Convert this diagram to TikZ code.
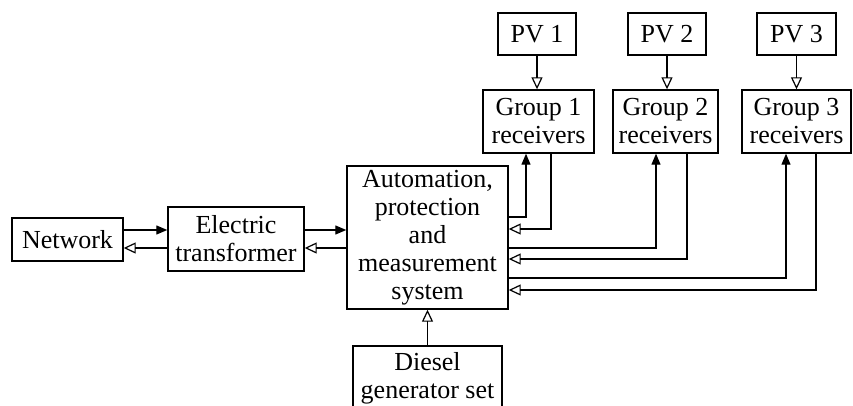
\documentclass[tikz,border=0pt]{standalone}
\usepackage{fontspec}
\setmainfont{Liberation Serif}
\usetikzlibrary{arrows.meta}
\begin{document}
\begin{tikzpicture}[x=1pt,y=-1pt,
  box/.style={draw,line width=1.4pt,inner sep=0pt,align=center,
    font=\fontsize{26}{28}\selectfont},
  fa/.style={draw,line width=1.2pt,-{Triangle[length=11pt,width=9pt]}},
  oa/.style={draw,line width=1.2pt,-{Triangle[open,length=12pt,width=11pt,line width=1.2pt]}}]
\useasboundingbox (0,0) rectangle (853,406);
\clip (0,0) rectangle (853,406);
\node[box,minimum width=111pt,minimum height=43pt] (net) at (67.5,239.5) {Network};
\node[box,minimum width=136pt,minimum height=64pt] (tr) at (236,239) {Electric\\transformer};
\node[box,minimum width=161pt,minimum height=143pt] (sys) at (427.5,237.5) {Automation,\\protection\\and\\measurement\\system};
\node[box,minimum width=111pt,minimum height=63pt] (g1) at (538.5,121.5) {Group 1\\receivers};
\node[box,minimum width=105pt,minimum height=63pt] (g2) at (665.5,121.5) {Group 2\\receivers};
\node[box,minimum width=109pt,minimum height=63pt] (g3) at (796.5,121.5) {Group 3\\receivers};
\node[box,minimum width=78pt,minimum height=42pt] (pv1) at (537,34) {PV 1};
\node[box,minimum width=78pt,minimum height=42pt] (pv2) at (667,34) {PV 2};
\node[box,minimum width=79pt,minimum height=42pt] (pv3) at (796.5,34) {PV 3};
\node[box,minimum width=149pt,minimum height=72pt,text depth=14pt] (dg) at (427.5,382) {Diesel\\generator set};
\coordinate (ya) at (0,230);
\coordinate (yb) at (0,248);
\coordinate (l1) at (0,217);
\coordinate (l2) at (0,229);
\coordinate (l3) at (0,248);
\coordinate (l4) at (0,259);
\coordinate (l5) at (0,278);
\coordinate (l6) at (0,290);
\draw[fa] (net.east |- ya) -- (tr.west |- ya);
\draw[oa] (tr.west |- yb) -- (net.east |- yb);
\draw[fa] (tr.east |- ya) -- (sys.west |- ya);
\draw[oa] (sys.west |- yb) -- (tr.east |- yb);
\draw[fa] (sys.east |- l1) -| ([xshift=-12.5pt]g1.south);
\draw[oa] ([xshift=12.5pt]g1.south) |- (sys.east |- l2);
\draw[fa] (sys.east |- l3) -| ([xshift=-9.5pt]g2.south);
\draw[oa] ([xshift=21.5pt]g2.south) |- (sys.east |- l4);
\draw[fa] (sys.east |- l5) -| ([xshift=-10.5pt]g3.south);
\draw[oa] ([xshift=19.5pt]g3.south) |- (sys.east |- l6);
\draw[oa] (pv1.south) -- (pv1.south |- g1.north);
\draw[oa] (pv2.south) -- (pv2.south |- g2.north);
\draw[oa] (pv3.south) -- (pv3.south |- g3.north);
\draw[oa] (dg.north) -- (dg.north |- sys.south);
\end{tikzpicture}
\end{document}
